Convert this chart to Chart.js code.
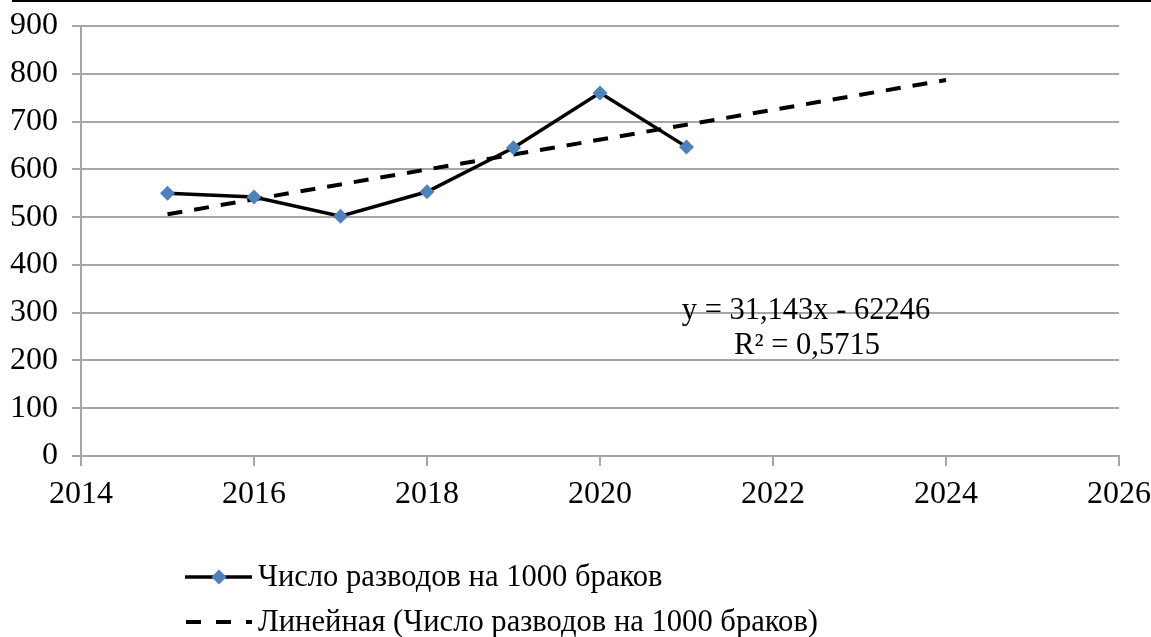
<!DOCTYPE html>
<html>
<head>
<meta charset="utf-8">
<script src="https://cdn.jsdelivr.net/npm/chart.js@4"></script>
<style>
  html, body { margin: 0; padding: 0; background: #fff; }
  #wrap { width: 1151px; height: 637px; position: relative; }
</style>
</head>
<body>
<div id="wrap"><canvas id="myChart"></canvas></div>
<script>
var years = [2015, 2016, 2017, 2018, 2019, 2020, 2021];
var divorces = [550, 542, 502, 553, 645, 760, 647];
var trendYears = [2015, 2024];
var trendValues = [506, 787];
var seriesLabel = "Число разводов на 1000 браков";
var trendLabel = "Линейная (Число разводов на 1000 браков)";
var equationLines = ["y = 31,143x - 62246", "R² = 0,5715"];

var FONT = "'Liberation Serif', 'Times New Roman', serif";
var GRID = "#a6a6a6";

function toPoints(xs, ys) {
  return xs.map(function (x, i) { return { x: x, y: ys[i] }; });
}

// draws the top rule, the trendline equation and the legend
var extras = {
  id: "extras",
  afterDraw: function (chart) {
    var c = chart.ctx;
    c.save();
    c.strokeStyle = "#000";
    c.lineWidth = 2;
    c.beginPath();
    c.moveTo(12, 1);
    c.lineTo(1151, 1);
    c.stroke();

    c.fillStyle = "#000";
    c.font = "30.5px " + FONT;
    c.textAlign = "center";
    c.textBaseline = "middle";
    c.fillText(equationLines[0], 806, 311);
    c.fillText(equationLines[1], 807, 346);

    // legend
    c.textAlign = "left";
    c.lineWidth = 3.5;
    c.beginPath();
    c.moveTo(185, 577);
    c.lineTo(252, 577);
    c.stroke();
    c.fillStyle = "#4f81bd";
    c.beginPath();
    c.moveTo(219 - 7.5, 577);
    c.lineTo(219, 577 - 7.5);
    c.lineTo(219 + 7.5, 577);
    c.lineTo(219, 577 + 7.5);
    c.closePath();
    c.fill();
    c.lineWidth = 4;
    c.setLineDash([15, 15]);
    c.beginPath();
    c.moveTo(186, 622);
    c.lineTo(252, 622);
    c.stroke();
    c.setLineDash([]);
    c.fillStyle = "#000";
    c.font = "30.6px " + FONT;
    c.fillText(chart.data.datasets[0].label, 258, 578);
    c.fillText(chart.data.datasets[1].label, 258, 623);
    c.restore();
  }
};

var ctx = document.getElementById("myChart").getContext("2d");
var myChart = new Chart(ctx, {
  type: "scatter",
  data: {
    datasets: [
      {
        label: seriesLabel,
        data: toPoints(years, divorces),
        showLine: true,
        borderColor: "#000",
        borderWidth: 3.5,
        pointStyle: "rectRot",
        pointRadius: 7.5,
        pointHoverRadius: 7.5,
        pointBackgroundColor: "#4f81bd",
        pointBorderColor: "#4f81bd",
        pointBorderWidth: 0,
        tension: 0,
        order: 1
      },
      {
        label: trendLabel,
        data: toPoints(trendYears, trendValues),
        showLine: true,
        borderColor: "#000",
        borderWidth: 4,
        borderDash: [15, 12],
        pointRadius: 0,
        order: 2
      }
    ]
  },
  options: {
    responsive: true,
    maintainAspectRatio: false,
    animation: false,
    layout: { padding: { top: 26, right: 32, left: 0, bottom: 0 } },
    plugins: {
      legend: { display: false },
      tooltip: { enabled: false }
    },
    scales: {
      x: {
        type: "linear",
        min: 2014,
        max: 2026,
        afterFit: function (s) {
          s.height = 181;
          s.paddingLeft = 0;
          s.paddingRight = 0;
        },
        ticks: {
          stepSize: 2,
          color: "#000",
          padding: 9,
          font: { family: FONT, size: 32 },
          callback: function (v) { return String(v); }
        },
        grid: {
          drawOnChartArea: false,
          drawTicks: true,
          tickLength: 10,
          color: GRID,
          lineWidth: 2
        },
        border: { color: GRID, width: 2 }
      },
      y: {
        min: 0,
        max: 900,
        afterFit: function (s) {
          s.width = 81;
          s.paddingTop = 0;
          s.paddingBottom = 0;
        },
        ticks: {
          stepSize: 100,
          color: "#000",
          padding: 14,
          font: { family: FONT, size: 32 }
        },
        grid: {
          color: GRID,
          lineWidth: 2,
          tickLength: 9
        },
        border: { color: GRID, width: 2 }
      }
    }
  },
  plugins: [extras]
});
</script>
</body>
</html>
